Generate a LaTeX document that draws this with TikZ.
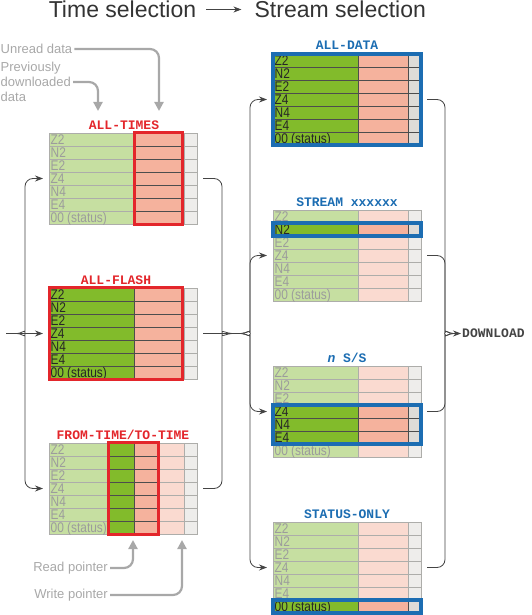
\documentclass[tikz,border=0pt]{standalone}
\usepackage{fontspec}
\setmainfont{Liberation Sans}
\setmonofont{Liberation Mono}
\newfontfamily\rowfont[FakeStretch=0.85]{Liberation Sans}
\usetikzlibrary{arrows.meta,positioning,calc}

\definecolor{grnA}{HTML}{82BB2B}
\definecolor{grnF}{HTML}{C6DFA1}
\definecolor{pnkA}{HTML}{F5B29D}
\definecolor{pnkF}{HTML}{FADAD0}
\definecolor{gryA}{HTML}{DEDCD8}
\definecolor{gryF}{HTML}{EEEDEB}
\definecolor{lineA}{HTML}{4D4D4D}
\definecolor{lineF}{HTML}{ADADAA}
\definecolor{txtgA}{HTML}{262626}
\definecolor{txtgF}{HTML}{9C9C9C}
\definecolor{selred}{HTML}{E3262B}
\definecolor{selblue}{HTML}{1C6DB2}
\definecolor{connc}{HTML}{444444}
\definecolor{ptrc}{HTML}{A8A8A8}
\definecolor{titlec}{HTML}{333333}

% one row of a register table: table, row, label, green, pink, grey
\newcommand{\regrow}[6]{%
  \path[#4] ($(#1)+(0,-13*#2)$) rectangle ++(85,-13);
  \path[#5] ($(#1)+(85,-13*#2)$) rectangle ++(50,-13);
  \path[#6] ($(#1)+(135,-13*#2)$) rectangle ++(13,-13);
  \node[rowtxt, text=txt#4] (#1-t#2) at ($(#1)+(0.5,-13*#2-11.8)$) {#3};
}
% whole table: name, top-left, column styles
\newcommand{\regtable}[5]{%
  \coordinate (#1) at (#2);
  \coordinate (#1-in) at ($(#1)+(-6,-45.5)$);
  \coordinate (#1-out) at ($(#1)+(154,-45.5)$);
  \foreach \lab [count=\r from 0] in {Z2,N2,E2,Z4,N4,E4,00 (status)}
    {\regrow{#1}{\r}{\lab}{#3}{#4}{#5}}
}

\begin{document}
\begin{tikzpicture}[
    x=1pt, y=1pt,
    gA/.style={fill=grnA, draw=lineA, line width=0.6pt},
    gF/.style={fill=grnF, draw=lineF, line width=0.6pt},
    pA/.style={fill=pnkA, draw=lineA, line width=0.6pt},
    pF/.style={fill=pnkF, draw=lineF, line width=0.6pt},
    kA/.style={fill=gryA, draw=lineA, line width=0.6pt},
    kF/.style={fill=gryF, draw=lineF, line width=0.6pt},
    rowtxt/.style={anchor=base west, inner sep=1pt, font=\rowfont\fontsize{14}{14}\selectfont},
    title/.style={inner sep=0pt, text=titlec, font=\fontsize{23}{26}\selectfont},
    sellabel/.style={anchor=base, inner sep=0pt, font=\fontsize{13}{14}\selectfont\ttfamily\bfseries},
    redbox/.style={draw=selred, line width=3pt},
    bluebox/.style={draw=selblue, line width=3.5pt},
    conn/.style={draw=connc, line width=0.8pt},
    arrow/.style={-{Stealth[length=8pt,width=6pt]}},
    ptr/.style={draw=ptrc, line width=2.2pt, rounded corners=9pt, -{Triangle[length=9pt,width=9pt]}},
    ptrtxt/.style={text=ptrc, inner sep=2pt, align=left, font=\fontsize{13}{15}\selectfont}
]
\useasboundingbox (0,0) rectangle (531,-615);

% Titles
\node[title] (tsel) at (122.5,-9.5) {Time selection};
\node[title, base right=58pt of tsel] (ssel) {Stream selection};
\draw[conn, arrow, shorten <=10pt, shorten >=13pt] (tsel) -- (ssel);

% Time selection tables
\regtable{times}{49,-133}{gF}{pA}{kF}
\regtable{flash}{49,-288}{gA}{pA}{kF}
\regtable{ftime}{49,-443}{gF}{pF}{kF}
\foreach \r in {0,...,6} {
  \path[gA] ($(ftime)+(58,-13*\r)$) rectangle ++(27,-13);
  \path[pA] ($(ftime)+(85,-13*\r)$) rectangle ++(23,-13);
}
\draw[redbox] ($(times)+(85.5,0.5)$) rectangle ($(times)+(133.5,-91.5)$);
\draw[redbox] ($(flash)+(0.5,0.5)$) rectangle ($(flash)+(133,-91.5)$);
\draw[redbox] ($(ftime)+(59,0.5)$) rectangle ($(ftime)+(109.5,-91.5)$);

\node[sellabel, text=selred] (lbl-times) at ($(times)+(75,4)$) {ALL-TIMES};
\node[sellabel, text=selred] (lbl-flash) at ($(flash)+(67,4)$) {ALL-FLASH};
\node[sellabel, text=selred] (lbl-ftime) at ($(ftime)+(74,4)$) {FROM-TIME/TO-TIME};

% Stream selection tables
\regtable{alldata}{273,-54}{gA}{pA}{kA}
\regtable{stream}{273,-210}{gF}{pF}{kF}
\regrow{stream}{1}{N2}{gA}{pA}{kA}
\regtable{nss}{273,-366}{gF}{pF}{kF}
\foreach \r/\lab in {3/Z4,4/N4,5/E4} {\regrow{nss}{\r}{\lab}{gA}{pA}{kA}}
\regtable{status}{273,-522}{gF}{pF}{kF}
\regrow{status}{6}{00 (status)}{gA}{pA}{kA}

\draw[bluebox] (alldata) rectangle ($(alldata)+(148,-91)$);
\draw[bluebox] ($(stream)+(0,-13)$) rectangle ($(stream)+(148,-26)$);
\draw[bluebox] ($(nss)+(0,-39)$) rectangle ($(nss)+(148,-78)$);
\draw[bluebox] ($(status)+(0,-78)$) rectangle ($(status)+(148,-91)$);

\node[sellabel, text=selblue] (lbl-alldata) at ($(alldata)+(74,4)$) {ALL-DATA};
\node[sellabel, text=selblue] (lbl-stream) at ($(stream)+(74,4)$) {STREAM xxxxxx};
\node[sellabel, text=selblue] (lbl-nss) at ($(nss)+(74,4)$) {{\itshape n} S/S};
\node[sellabel, text=selblue] (lbl-status) at ($(status)+(74,4)$) {STATUS-ONLY};

% Input brace
\coordinate (feed) at (6,-333.5);
\coordinate (cusp-l) at (17,-333.5);
\draw[conn, arrow] (feed) -- (flash-in);
\draw[conn, arrow, rounded corners=8pt] (cusp-l) to[out=0,in=-90] ++(8,9) |- (times-in);
\draw[conn, arrow, rounded corners=8pt] (cusp-l) to[out=0,in=90] ++(8,-9) |- (ftime-in);

% Middle braces
\coordinate (cusp-m) at (232,-333.5);
\coordinate (cusp-r) at (241,-333.5);
\draw[conn, rounded corners=8pt] (times-out) -| ++(19,-146) to[out=-90,in=180] (cusp-m);
\draw[conn, rounded corners=8pt] (ftime-out) -| ++(19,146) to[out=90,in=180] (cusp-m);
\draw[conn] (flash-out) -- (cusp-r);
\draw[conn, arrow, rounded corners=8pt] (cusp-r) to[out=0,in=-90] ++(9,9) |- (alldata-in);
\draw[conn, arrow, rounded corners=8pt] (cusp-r) to[out=0,in=-90] ++(9,9) |- (stream-in);
\draw[conn, arrow, rounded corners=8pt] (cusp-r) to[out=0,in=90] ++(9,-9) |- (nss-in);
\draw[conn, arrow, rounded corners=8pt] (cusp-r) to[out=0,in=90] ++(9,-9) |- (status-in);

% Output brace
\coordinate (cusp-d) at (453,-333.5);
\node[anchor=west, inner sep=1pt, text=connc, font=\fontsize{13}{14}\selectfont\ttfamily\bfseries] (download) at (461,-333.5) {DOWNLOAD};
\draw[conn, rounded corners=8pt] (alldata-out) -| ++(18,-225) to[out=-90,in=180] (cusp-d);
\draw[conn, rounded corners=8pt] (stream-out) -| ++(18,-69) to[out=-90,in=180] (cusp-d);
\draw[conn, rounded corners=8pt] (nss-out) -| ++(18,69) to[out=90,in=180] (cusp-d);
\draw[conn, rounded corners=8pt] (status-out) -| ++(18,225) to[out=90,in=180] (cusp-d);
\draw[conn, arrow] (cusp-d) -- (download);

% Pointers
\node[ptrtxt, anchor=west] (unread) at (-1.5,-49) {Unread data};
\node[ptrtxt, anchor=west] (prevdl) at (-1.5,-82) {Previously\\downloaded\\data};
\coordinate (unread-tip) at (159,-111);
\coordinate (prev-tip) at (98,-111);
\draw[ptr] (unread) -| (unread-tip);
\draw[ptr] (prevdl) -| (prev-tip);

\node[ptrtxt, anchor=east] (rdptr) at (110,-568) {Read pointer};
\node[ptrtxt, anchor=east] (wrptr) at (110,-595) {Write pointer};
\coordinate (rd-tip) at (133,-540);
\coordinate (wr-tip) at (182,-540);
\draw[ptr] (rdptr) -| (rd-tip);
\draw[ptr] (wrptr) -| (wr-tip);

\end{tikzpicture}
\end{document}
